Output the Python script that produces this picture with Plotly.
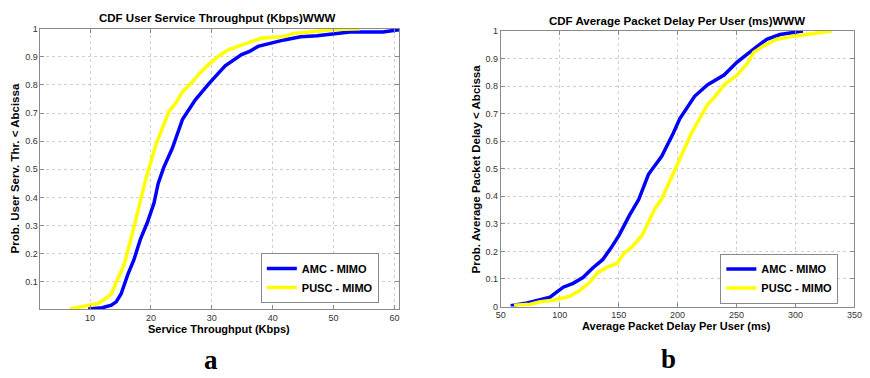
import plotly.graph_objects as go

W, H = 870, 378

# ---- Data ----
thr_amc_x = [9.7, 12.0, 13.5, 14.3, 15.1, 16.2, 17.2, 18.3, 19.4, 20.5, 21.2, 22.1, 23.5, 25.2,
             27.3, 29.5, 32.2, 34.9, 36.2, 37.6, 41.9, 44.6, 47.3, 50.0, 52.7, 58.1, 60.2, 60.8]
thr_amc_y = [0.004, 0.008, 0.017, 0.029, 0.057, 0.126, 0.178, 0.253, 0.31, 0.379, 0.45, 0.506, 0.574, 0.678,
             0.747, 0.804, 0.868, 0.908, 0.919, 0.937, 0.96, 0.971, 0.975, 0.983, 0.988, 0.988, 0.994, 0.996]
thr_pusc_x = [6.7, 9.95, 11.3, 12.5, 13.5, 14.3, 15.6, 17.0, 18.0, 19.1, 20.8, 23.0, 24.1, 25.2,
              26.8, 27.9, 29.5, 31.1, 32.7, 34.9, 38.1, 41.9, 43.5, 47.3, 50.0, 54.3]
thr_pusc_y = [0.004, 0.017, 0.023, 0.04, 0.057, 0.098, 0.161, 0.276, 0.368, 0.46, 0.586, 0.707, 0.736, 0.776,
              0.81, 0.839, 0.873, 0.902, 0.925, 0.942, 0.966, 0.972, 0.983, 0.991, 0.997, 1.0]

dly_amc_x = [58.4, 72.3, 83.4, 91.8, 97.4, 103.0, 111.3, 119.7, 128.0, 136.4, 143.3, 150.3, 159.0, 167.0,
             175.3, 186.5, 196.2, 201.8, 214.4, 225.5, 239.4, 250.5, 264.5, 275.6, 286.8, 297.9, 306.3]
dly_amc_y = [0.003, 0.013, 0.025, 0.034, 0.052, 0.07, 0.084, 0.105, 0.14, 0.17, 0.211, 0.258, 0.33, 0.388,
             0.48, 0.545, 0.628, 0.681, 0.763, 0.805, 0.84, 0.887, 0.934, 0.97, 0.987, 0.996, 1.0]
dly_pusc_x = [61.2, 75.1, 83.4, 94.6, 108.5, 116.9, 125.2, 132.2, 139.2, 148.9, 154.5, 161.5, 169.8, 176.8,
              181.0, 186.5, 197.7, 211.6, 225.5, 231.1, 239.4, 250.5, 258.9, 264.5, 272.9, 284.0, 297.9,
              310.0, 328.6, 331.0]
dly_pusc_y = [0.005, 0.008, 0.017, 0.023, 0.037, 0.058, 0.087, 0.123, 0.14, 0.158, 0.193, 0.217, 0.258, 0.317,
              0.357, 0.39, 0.498, 0.628, 0.734, 0.758, 0.805, 0.84, 0.881, 0.922, 0.946, 0.97, 0.981,
              0.988, 0.996, 1.0]

series_names = ["AMC - MIMO", "PUSC - MIMO"]
colors = ["#0000ff", "#ffff00"]

left_title = "CDF User Service Throughput (Kbps)WWW"
right_title = "CDF Average Packet Delay Per User (ms)WWW"
left_xlabel = "Service Throughput (Kbps)"
right_xlabel = "Average Packet Delay Per User (ms)"
left_ylabel = "Prob. User Serv. Thr. < Abcissa"
right_ylabel = "Prob. Average Packet Delay < Abcissa"
left_xticks = [10, 20, 30, 40, 50, 60]
right_xticks = [50, 100, 150, 200, 250, 300, 350]
left_yticks = [0.1, 0.2, 0.3, 0.4, 0.5, 0.6, 0.7, 0.8, 0.9, 1]
right_yticks = [0, 0.1, 0.2, 0.3, 0.4, 0.5, 0.6, 0.7, 0.8, 0.9, 1]

FONT = "Liberation Sans, Arial, sans-serif"

def px(x):
    return x / W

def py(y):
    return 1 - y / H

fig = go.Figure()
fig.add_trace(go.Scatter(x=thr_amc_x, y=thr_amc_y, mode="lines", name=series_names[0],
                         line=dict(color=colors[0], width=3.5), xaxis="x", yaxis="y", legend="legend"))
fig.add_trace(go.Scatter(x=thr_pusc_x, y=thr_pusc_y, mode="lines", name=series_names[1],
                         line=dict(color=colors[1], width=3.5), xaxis="x", yaxis="y", legend="legend"))
fig.add_trace(go.Scatter(x=dly_amc_x, y=dly_amc_y, mode="lines", name=series_names[0],
                         line=dict(color=colors[0], width=3.5), xaxis="x2", yaxis="y2", legend="legend2"))
fig.add_trace(go.Scatter(x=dly_pusc_x, y=dly_pusc_y, mode="lines", name=series_names[1],
                         line=dict(color=colors[1], width=3.5), xaxis="x2", yaxis="y2", legend="legend2"))

axis_common = dict(showline=True, linecolor="#8a8a8a", linewidth=1, mirror="ticks",
                   ticks="inside", ticklen=4, tickcolor="#8a8a8a",
                   showgrid=True, gridcolor="#cfcfcf", griddash="dot", gridwidth=1,
                   zeroline=False, tickfont=dict(family=FONT, size=9, color="#333333"))

legend_common = dict(bgcolor="white", bordercolor="#8a8a8a", borderwidth=1,
                     font=dict(family=FONT, size=11, color="black", weight="bold"),
                     xanchor="right", yanchor="middle", tracegroupgap=0, itemwidth=30)

fig.update_layout(
    width=W, height=H, margin=dict(l=0, r=0, t=0, b=0),
    paper_bgcolor="white", plot_bgcolor="white",
    xaxis=dict(domain=[px(36), px(400)], range=[1.86, 60.76], tickvals=left_xticks,
               anchor="y", **axis_common),
    yaxis=dict(domain=[py(312.3), py(24.3)], range=[0.0035, 1.0], tickvals=left_yticks,
               ticktext=[("%g" % v) for v in left_yticks], anchor="x", **axis_common),
    xaxis2=dict(domain=[px(503.3), px(862.3)], range=[50, 350], tickvals=right_xticks,
                anchor="y2", **axis_common),
    yaxis2=dict(domain=[py(309.7), py(26.7)], range=[0, 1], tickvals=right_yticks,
                ticktext=[("%g" % v) for v in right_yticks], anchor="x2", **axis_common),
    legend=dict(x=px(379.5), y=py(280.5), **legend_common),
    legend2=dict(x=px(846), y=py(281), **legend_common),
    showlegend=True,
)

def ann(text, x, y, size, bold=True, angle=0, family=FONT):
    fig.add_annotation(text=("<b>%s</b>" % text) if bold else text, x=px(x), y=py(y),
                       xref="paper", yref="paper", showarrow=False, textangle=angle,
                       xanchor="center", yanchor="middle",
                       font=dict(family=family, size=size, color="black"))

ann(left_title, 216, 13.5, 11.5)
ann(right_title, 682, 16, 11.5)
ann(left_xlabel, 217, 332.5, 11)
ann(right_xlabel, 682, 330, 11)
ann(left_ylabel, 10, 168, 11.5, angle=-90)
ann(right_ylabel, 478, 168, 11.5, angle=-90)
ann("a", 209, 365, 27, family="Liberation Serif, Times New Roman, serif")
ann("b", 674, 364, 27, family="Liberation Serif, Times New Roman, serif")

fig.write_html("out.html")
